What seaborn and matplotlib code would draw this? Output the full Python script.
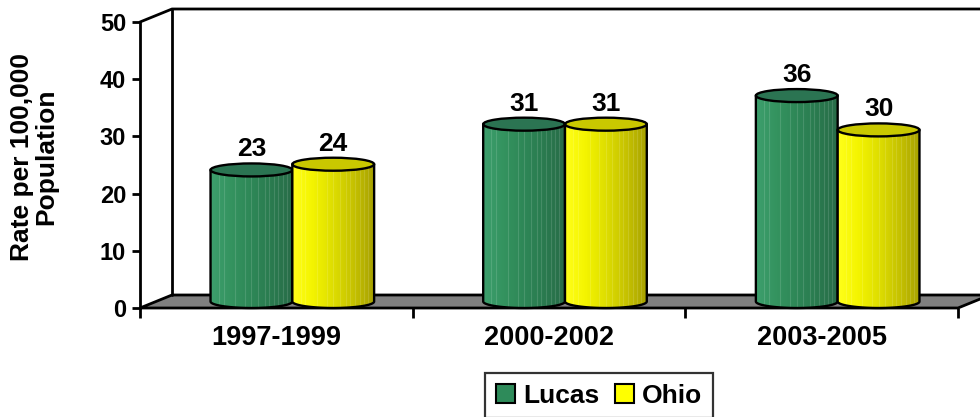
import numpy as np
import pandas as pd
import matplotlib
matplotlib.use("Agg")
import matplotlib.pyplot as plt
import seaborn as sns
from matplotlib.patches import Ellipse, Polygon, PathPatch, Patch
from matplotlib.path import Path
from matplotlib.transforms import IdentityTransform
from matplotlib.colors import LinearSegmentedColormap, to_rgb

# ---------------- data ----------------
periods = ["1997-1999", "2000-2002", "2003-2005"]
series = ["Lucas", "Ohio"]
lucas = [23, 31, 36]
ohio = [24, 31, 30]
yticks = [0, 10, 20, 30, 40, 50]
ylabel = "Rate per 100,000\nPopulation"

df = pd.DataFrame({
    "period": periods * 2,
    "series": ["Lucas"] * len(periods) + ["Ohio"] * len(periods),
    "rate": lucas + ohio,
})

# ---------------- style ----------------
base = {"Lucas": "#2e8b5a", "Ohio": "#ffff00"}
stops = {
    "Lucas": ["#3d9f6d", "#34935f", "#2e8757", "#2a7a4f", "#286c48"],
    "Ohio": ["#ffff1a", "#f4f400", "#dede00", "#c6c200", "#a8a200"],
}
tops = {"Lucas": "#2b7452", "Ohio": "#c9c800"}

sns.set_theme(style="white")
plt.rcParams["font.family"] = ["Liberation Sans", "DejaVu Sans"]
plt.rcParams["font.weight"] = "bold"
for k in ["text.color", "axes.labelcolor", "xtick.color", "ytick.color"]:
    plt.rcParams[k] = "black"

W, H = 980, 417
fig = plt.figure(figsize=(W / 100, H / 100), dpi=100)
L, R, B, T = 140, 958, 308, 22          # front plane in pixels
DX, DY = 32, 13                          # depth offset in pixels
ax = fig.add_axes([L / W, (H - B) / H, (R - L) / W, (B - T) / H])

px_per_unit = (B - T) / (yticks[-1] - yticks[0])
below = 3.0                              # extra room under cylinders (data units)
axb = fig.add_axes([(L + DX / 2) / W, (H - B + DY / 2 - below * px_per_unit) / H,
                    (R - L) / W, (B - T + below * px_per_unit) / H])

ax.set_xlim(-0.5, len(periods) - 0.5)
ax.set_ylim(yticks[0], yticks[-1])

# ---------------- frame (walls / floor) ----------------
ax.set_facecolor("none")
x0f, x1f = -0.5, len(periods) - 0.5
def front(x, y):
    return ax.transData.transform((x, y))
def back(x, y):
    return ax.transData.transform((x, y)) + np.array([DX, DY])

floor = Polygon([front(x0f, 0), front(x1f, 0), back(x1f, 0), back(x0f, 0)],
                closed=True, facecolor="#808080", edgecolor="black", lw=2,
                transform=IdentityTransform(), clip_on=False, zorder=1)
ax.add_patch(floor)
wall_pts = [front(x0f, yticks[-1]), back(x0f, yticks[-1]), back(x1f, yticks[-1])]
ax.plot(*np.array(wall_pts).T, color="black", lw=2, transform=IdentityTransform(), clip_on=False, zorder=1)
vert = [back(x0f, 0), back(x0f, yticks[-1])]
ax.plot(*np.array(vert).T, color="black", lw=2, transform=IdentityTransform(), clip_on=False, zorder=1)

for s in ["top", "right", "bottom"]:
    ax.spines[s].set_visible(False)
ax.spines["left"].set_color("black")
ax.spines["left"].set_linewidth(2)
ax.set_yticks(yticks)
ax.set_yticklabels([str(v) for v in yticks], fontsize=17, fontweight="bold")
ax.tick_params(axis="y", left=True, length=6, width=2, color="black", pad=4)
ax.set_xticks(np.arange(-0.5, len(periods), 1.0))
ax.set_xticklabels([])
ax.set_xticks(range(len(periods)), minor=True)
ax.set_xticklabels(periods, minor=True, fontsize=19.5, fontweight="bold")
ax.tick_params(axis="x", which="major", bottom=True, length=7, width=2, color="black")
ax.tick_params(axis="x", which="minor", bottom=False, length=0, pad=12)
ax.set_xlabel("")
ax.set_ylabel("")

# ---------------- bars (cylinders) ----------------
sns.barplot(data=df, x="period", y="rate", hue="series", hue_order=series,
            order=periods, palette=base, width=0.6, saturation=1,
            legend=False, ax=axb)
axb.axis("off")
axb.set_facecolor("none")

eh = (DY / 2) / px_per_unit            # ellipse half-height in data units
grad = np.linspace(0, 1, 256).reshape(1, -1)
stripe_fr = [0.1, 0.16, 0.3, 0.42, 0.5, 0.58, 0.66, 0.71, 0.77, 0.83, 0.88, 0.93]

bars = [p for p in axb.patches if p.get_height() > 0]
for p in bars:
    fc = to_rgb(p.get_facecolor())
    key = min(series, key=lambda k: np.sum((np.array(to_rgb(base[k])) - fc) ** 2))
    zb = 2 if key == "Lucas" else 7
    x0, w, h = p.get_x(), p.get_width(), p.get_height()
    x1, cx = x0 + w, x0 + w / 2
    p.set_visible(False)
    t = np.linspace(np.pi, 2 * np.pi, 60)
    arc = np.column_stack([cx + w / 2 * np.cos(t), eh * np.sin(t)])
    verts = np.vstack([[x0, h], arc, [x1, h], [x0, h]])
    clip = PathPatch(Path(verts), transform=axb.transData, facecolor="none", edgecolor="none")
    axb.add_patch(clip)
    cmap = LinearSegmentedColormap.from_list(key, stops[key])
    im = axb.imshow(grad, cmap=cmap, aspect="auto", extent=[x0, x1, -eh, h],
                    origin="lower", zorder=zb, interpolation="bilinear")
    im.set_clip_path(clip)
    for f in stripe_fr:
        xs = x0 + f * w
        ln, = axb.plot([xs, xs], [-eh * 1.2, h], color="white", alpha=0.13, lw=0.8,
                       zorder=zb + 0.5)
        ln.set_clip_path(clip)
    outline = np.vstack([[x0, h], arc, [x1, h]])
    axb.plot(outline[:, 0], outline[:, 1], color="black", lw=1.7, zorder=zb + 1,
             solid_joinstyle="round", clip_on=False)
    axb.add_patch(Ellipse((cx, h), w, 2 * eh, facecolor=tops[key], edgecolor="black",
                          lw=1.7, zorder=zb + 2, clip_on=False))
    axb.annotate(f"{h:.0f}", (cx, h + eh), xytext=(0, 1.5), textcoords="offset points",
                 ha="center", va="bottom", fontsize=19, fontweight="bold", color="black",
                 zorder=20, annotation_clip=False)

axb.set_xlim(-0.5, len(periods) - 0.5)
axb.set_ylim(yticks[0] - below, yticks[-1])

# ---------------- y label ----------------
fig.text(34 / W, (H - 157) / H, ylabel, rotation=90, ha="center", va="center",
         fontsize=19, fontweight="bold", linespacing=1.0, color="black")

# ---------------- legend ----------------
handles = [Patch(facecolor=base[k], edgecolor="black", lw=1.5, label=k) for k in series]
leg = fig.legend(handles=handles, loc="upper center", bbox_to_anchor=(599 / W, (H - 373) / H),
                 ncol=2, frameon=True, fancybox=False, borderaxespad=0,
                 handlelength=0.72, handleheight=0.72, handletextpad=0.3,
                 columnspacing=0.6, borderpad=0.4, prop={"weight": "bold", "size": 19})
leg.get_frame().set_edgecolor("black")
leg.get_frame().set_linewidth(1.6)
leg.get_frame().set_facecolor("white")
for txt in leg.get_texts():
    txt.set_color("black")

fig.savefig("out.png", dpi=100)
